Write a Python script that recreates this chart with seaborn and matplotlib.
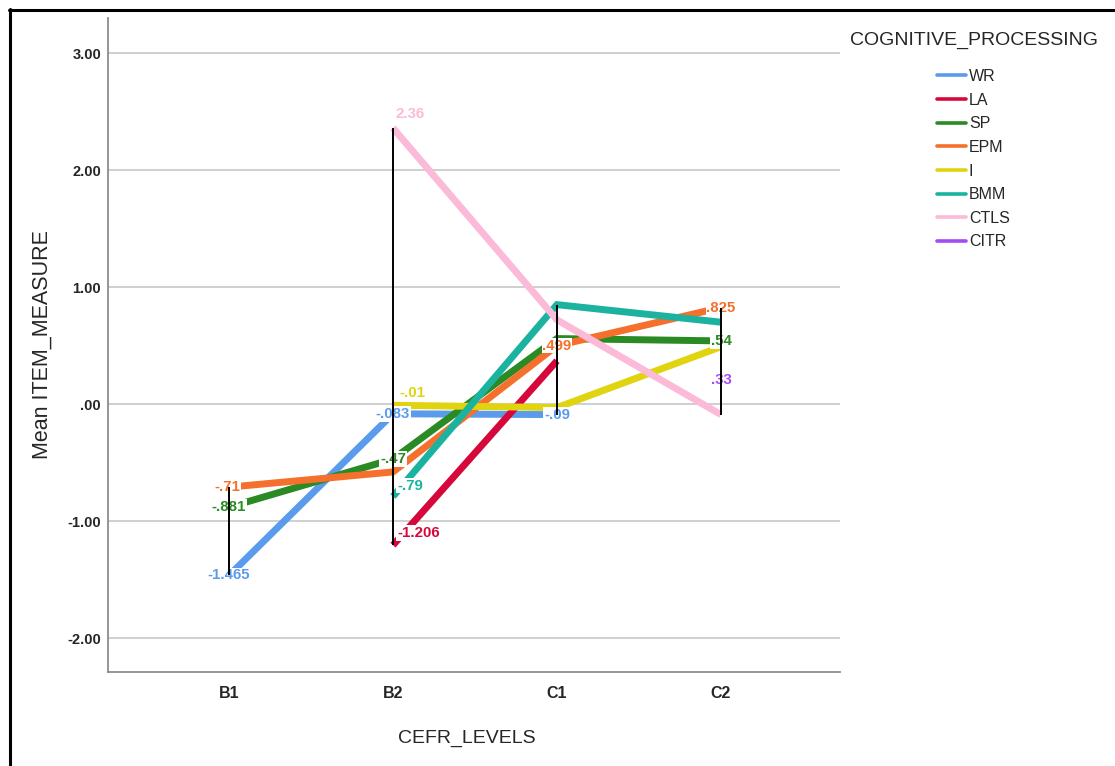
import numpy as np
import pandas as pd
import matplotlib
matplotlib.use("Agg")
import matplotlib.pyplot as plt
from matplotlib.lines import Line2D
import seaborn as sns

# ---------------- data ----------------
levels = ["B1", "B2", "C1", "C2"]
series = ["WR", "LA", "SP", "EPM", "I", "BMM", "CTLS", "CITR"]
nan = np.nan
WR = [-1.465, -0.083, -0.09, nan]
LA = [nan, -1.206, 0.37, nan]
SP = [-0.881, -0.47, 0.56, 0.54]
EPM = [-0.71, -0.58, 0.499, 0.825]
I = [nan, -0.01, -0.03, 0.49]
BMM = [nan, -0.79, 0.85, 0.70]
CTLS = [nan, 2.36, 0.72, -0.09]
CITR = [nan, nan, nan, 0.33]
values = {"WR": WR, "LA": LA, "SP": SP, "EPM": EPM, "I": I,
          "BMM": BMM, "CTLS": CTLS, "CITR": CITR}

# points that carry a value label: (series, level)
labelled = [("WR", "B1"), ("WR", "B2"), ("WR", "C1"), ("LA", "B2"),
            ("SP", "B1"), ("SP", "B2"), ("SP", "C2"),
            ("EPM", "B1"), ("EPM", "C1"), ("EPM", "C2"),
            ("I", "B2"), ("BMM", "B2"), ("CTLS", "B2"), ("CITR", "C2")]
yticks = [-2, -1, 0, 1, 2, 3]
ytick_labels = ["-2.00", "-1.00", ".00", "1.00", "2.00", "3.00"]

colors = {"WR": "#5b9bec", "LA": "#d6083b", "SP": "#2a8a23", "EPM": "#f4702c",
          "I": "#e0d410", "BMM": "#1bb3a0", "CTLS": "#fbbad8", "CITR": "#a34cf4"}

# label placement styles (offset in pixels, alignment)
label_style = {("I", "B2"): (6, 12, "left"), ("BMM", "B2"): (4, 11, "left"),
               ("LA", "B2"): (4, 12, "left"), ("CTLS", "B2"): (3, 14, "left"),
               ("CITR", "C2"): (0, -15, "center"), ("EPM", "B1"): (-2, 0, "center")}

rows = []
for s in series:
    for lv, v in zip(levels, values[s]):
        rows.append({"CEFR_LEVELS": lv, "ITEM_MEASURE": v, "COGNITIVE_PROCESSING": s})
df = pd.DataFrame(rows)
df["CEFR_LEVELS"] = pd.Categorical(df["CEFR_LEVELS"], categories=levels, ordered=True)


def spss_fmt(v):
    s = f"{v:.3f}".rstrip("0").rstrip(".")
    if s.startswith("-0."):
        s = "-" + s[2:]
    elif s.startswith("0."):
        s = s[1:]
    return s


# ---------------- figure ----------------
sns.set_style("white")
plt.rcParams["font.family"] = ["Liberation Sans", "DejaVu Sans"]

W, H = 1115, 766
fig = plt.figure(figsize=(W / 100, H / 100), dpi=100)
ax = fig.add_axes([108 / W, 1 - 672 / H, (840 - 108) / W, (672 - 18) / H])

sns.lineplot(data=df, x="CEFR_LEVELS", y="ITEM_MEASURE", hue="COGNITIVE_PROCESSING",
             hue_order=series, palette=colors, linewidth=5.0, legend=False,
             sort=False, ax=ax, solid_capstyle="butt", solid_joinstyle="miter",
             zorder=3)

# drop lines (min to max at each level)
for i, lv in enumerate(levels):
    vals = [values[s][i] for s in series if not np.isnan(values[s][i])]
    ax.vlines(i, min(vals), max(vals), color="black", linewidth=1.4, zorder=6)

# value labels
for s, lv in labelled:
    i = levels.index(lv)
    v = values[s][i]
    dx, dy, ha = label_style.get((s, lv), (0, 0, "center"))
    ax.annotate(spss_fmt(v), xy=(i, v), xytext=(dx * 0.72, dy * 0.72),
                textcoords="offset points", ha=ha, va="center",
                fontsize=10.8, fontweight="bold", color=colors[s], zorder=5,
                bbox=dict(boxstyle="square,pad=0.05", fc="white", ec="none"))

ax.set_xlim(-0.738, 3.726)
ax.set_ylim(-2.29, 3.30)
ax.set_yticks(yticks)
ax.set_yticklabels(ytick_labels)
ax.set_xticks(range(len(levels)))
ax.set_xticklabels(levels)
ax.grid(False)
ax.yaxis.grid(True, color="#cccccc", linewidth=1.3, zorder=0)
ax.set_axisbelow(True)
for side in ["top", "right"]:
    ax.spines[side].set_visible(False)
for side in ["left", "bottom"]:
    ax.spines[side].set_color("#8c8c8c")
    ax.spines[side].set_linewidth(1.3)
ax.tick_params(axis="both", length=0)
ax.tick_params(axis="y", pad=5, labelsize=10.5)
ax.tick_params(axis="x", pad=10, labelsize=11.5)
for t in ax.get_yticklabels() + ax.get_xticklabels():
    t.set_fontweight("bold")

ax.set_xlabel("CEFR_LEVELS", fontsize=14)
ax.xaxis.set_label_coords((467 - 108) / 732, (672 - 730) / 654)
ax.set_ylabel("Mean ITEM_MEASURE", fontsize=15.5)
ax.yaxis.set_label_coords((53 - 108) / 732, 0.5)

# legend
handles = [Line2D([0], [0], color=colors[s], linewidth=2.6) for s in series]
fig.text(850 / W, 1 - 40 / H, "COGNITIVE_PROCESSING", fontsize=14,
         ha="left", va="center")
fig.legend(handles, series, loc="upper left",
           bbox_to_anchor=(937 / W, 1 - 69 / H), frameon=False,
           fontsize=11.5, handlelength=1.8, handletextpad=0.2,
           labelspacing=0.54, borderpad=0, borderaxespad=0)

# outer frame (left & top)
fig.add_artist(Line2D([9.5 / W, 9.5 / W], [0, 1 - 9 / H], transform=fig.transFigure,
                      color="black", linewidth=2.2))
fig.add_artist(Line2D([8.5 / W, 1], [1 - 10 / H, 1 - 10 / H], transform=fig.transFigure,
                      color="black", linewidth=2.2))

fig.savefig("out.png", dpi=100)
